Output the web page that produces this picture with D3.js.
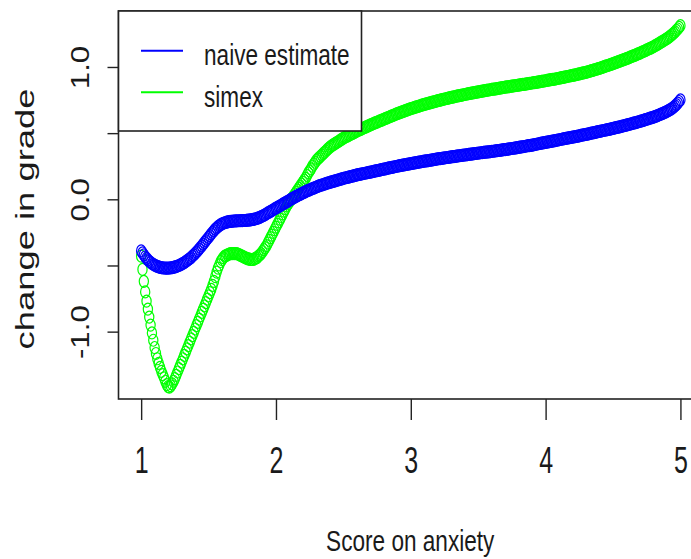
<!DOCTYPE html>
<html>
<head>
<meta charset="utf-8">
<script src="https://cdn.jsdelivr.net/npm/d3@7/dist/d3.min.js"></script>
<style>
  html, body { margin: 0; padding: 0; background: #fff; }
  svg { display: block; }
  text { font-family: "Liberation Sans", Arial, sans-serif; fill: #1a1a1a; }
</style>
</head>
<body>
<svg id="chart" width="691" height="559"></svg>
<script>
// Anxiety scores at which both fits are evaluated
const anxietyScore = [
  1.00,1.01,1.02,1.03,1.04,1.05,1.06,1.07,1.08,1.09,1.10,1.11,1.12,1.13,1.14,1.15,1.16,1.17,1.18,1.19,
  1.20,1.21,1.22,1.23,1.24,1.25,1.26,1.27,1.28,1.29,1.30,1.31,1.32,1.33,1.34,1.35,1.36,1.37,1.38,1.39,
  1.40,1.41,1.42,1.43,1.44,1.45,1.46,1.47,1.48,1.49,1.50,1.51,1.52,1.53,1.54,1.55,1.56,1.57,1.58,1.59,
  1.60,1.61,1.62,1.63,1.64,1.65,1.66,1.67,1.68,1.69,1.70,1.71,1.72,1.73,1.74,1.75,1.76,1.77,1.78,1.79,
  1.80,1.81,1.82,1.83,1.84,1.85,1.86,1.87,1.88,1.89,1.90,1.91,1.92,1.93,1.94,1.95,1.96,1.97,1.98,1.99,
  2.00,2.01,2.02,2.03,2.04,2.05,2.06,2.07,2.08,2.09,2.10,2.11,2.12,2.13,2.14,2.15,2.16,2.17,2.18,2.19,
  2.20,2.21,2.22,2.23,2.24,2.25,2.26,2.27,2.28,2.29,2.30,2.31,2.32,2.33,2.34,2.35,2.36,2.37,2.38,2.39,
  2.40,2.41,2.42,2.43,2.44,2.45,2.46,2.47,2.48,2.49,2.50,2.51,2.52,2.53,2.54,2.55,2.56,2.57,2.58,2.59,
  2.60,2.61,2.62,2.63,2.64,2.65,2.66,2.67,2.68,2.69,2.70,2.71,2.72,2.73,2.74,2.75,2.76,2.77,2.78,2.79,
  2.80,2.81,2.82,2.83,2.84,2.85,2.86,2.87,2.88,2.89,2.90,2.91,2.92,2.93,2.94,2.95,2.96,2.97,2.98,2.99,
  3.00,3.01,3.02,3.03,3.04,3.05,3.06,3.07,3.08,3.09,3.10,3.11,3.12,3.13,3.14,3.15,3.16,3.17,3.18,3.19,
  3.20,3.21,3.22,3.23,3.24,3.25,3.26,3.27,3.28,3.29,3.30,3.31,3.32,3.33,3.34,3.35,3.36,3.37,3.38,3.39,
  3.40,3.41,3.42,3.43,3.44,3.45,3.46,3.47,3.48,3.49,3.50,3.51,3.52,3.53,3.54,3.55,3.56,3.57,3.58,3.59,
  3.60,3.61,3.62,3.63,3.64,3.65,3.66,3.67,3.68,3.69,3.70,3.71,3.72,3.73,3.74,3.75,3.76,3.77,3.78,3.79,
  3.80,3.81,3.82,3.83,3.84,3.85,3.86,3.87,3.88,3.89,3.90,3.91,3.92,3.93,3.94,3.95,3.96,3.97,3.98,3.99,
  4.00,4.01,4.02,4.03,4.04,4.05,4.06,4.07,4.08,4.09,4.10,4.11,4.12,4.13,4.14,4.15,4.16,4.17,4.18,4.19,
  4.20,4.21,4.22,4.23,4.24,4.25,4.26,4.27,4.28,4.29,4.30,4.31,4.32,4.33,4.34,4.35,4.36,4.37,4.38,4.39,
  4.40,4.41,4.42,4.43,4.44,4.45,4.46,4.47,4.48,4.49,4.50,4.51,4.52,4.53,4.54,4.55,4.56,4.57,4.58,4.59,
  4.60,4.61,4.62,4.63,4.64,4.65,4.66,4.67,4.68,4.69,4.70,4.71,4.72,4.73,4.74,4.75,4.76,4.77,4.78,4.79,
  4.80,4.81,4.82,4.83,4.84,4.85,4.86,4.87,4.88,4.89,4.90,4.91,4.92,4.93,4.94,4.95,4.96,4.97,4.98,4.99,
  5.00
];

// Naive estimate of the change in grade
const naiveEstimate = [
  -0.390,-0.405,-0.420,-0.435,-0.447,-0.458,-0.468,-0.477,-0.485,-0.492,-0.498,-0.503,-0.507,-0.511,-0.514,-0.516,-0.518,-0.519,-0.520,-0.520,
  -0.520,-0.519,-0.518,-0.516,-0.514,-0.511,-0.508,-0.504,-0.500,-0.495,-0.490,-0.484,-0.478,-0.471,-0.464,-0.456,-0.448,-0.440,-0.430,-0.420,
  -0.410,-0.399,-0.388,-0.376,-0.364,-0.352,-0.339,-0.326,-0.313,-0.300,-0.287,-0.274,-0.261,-0.249,-0.237,-0.226,-0.216,-0.207,-0.199,-0.192,
  -0.186,-0.181,-0.177,-0.174,-0.171,-0.169,-0.167,-0.166,-0.165,-0.164,-0.163,-0.163,-0.162,-0.162,-0.161,-0.161,-0.160,-0.160,-0.159,-0.158,
  -0.157,-0.156,-0.154,-0.152,-0.150,-0.147,-0.144,-0.140,-0.136,-0.131,-0.126,-0.121,-0.115,-0.109,-0.103,-0.097,-0.091,-0.085,-0.079,-0.073,
  -0.067,-0.061,-0.055,-0.049,-0.043,-0.037,-0.031,-0.025,-0.019,-0.013,-0.007,-0.001,0.005,0.011,0.017,0.022,0.028,0.033,0.038,0.043,
  0.048,0.053,0.058,0.063,0.067,0.072,0.076,0.080,0.085,0.089,0.093,0.097,0.101,0.105,0.108,0.112,0.115,0.119,0.122,0.125,
  0.128,0.131,0.134,0.137,0.140,0.143,0.146,0.149,0.152,0.155,0.158,0.161,0.163,0.166,0.168,0.171,0.174,0.176,0.179,0.181,
  0.184,0.186,0.188,0.191,0.193,0.195,0.197,0.199,0.202,0.204,0.206,0.208,0.210,0.213,0.215,0.217,0.219,0.221,0.224,0.226,
  0.228,0.230,0.232,0.235,0.237,0.239,0.241,0.243,0.246,0.248,0.250,0.252,0.254,0.256,0.258,0.260,0.262,0.264,0.266,0.268,
  0.270,0.272,0.274,0.275,0.277,0.279,0.281,0.283,0.284,0.286,0.288,0.290,0.291,0.293,0.295,0.296,0.298,0.300,0.302,0.303,
  0.305,0.307,0.308,0.310,0.311,0.313,0.314,0.316,0.317,0.319,0.320,0.322,0.323,0.325,0.326,0.328,0.329,0.331,0.332,0.334,
  0.335,0.336,0.338,0.339,0.341,0.342,0.343,0.345,0.346,0.348,0.349,0.350,0.352,0.353,0.354,0.356,0.357,0.358,0.359,0.361,
  0.362,0.363,0.365,0.366,0.368,0.369,0.370,0.372,0.373,0.375,0.376,0.378,0.379,0.381,0.382,0.384,0.386,0.387,0.389,0.390,
  0.392,0.394,0.396,0.397,0.399,0.401,0.403,0.405,0.406,0.408,0.410,0.412,0.414,0.416,0.418,0.420,0.422,0.424,0.426,0.428,
  0.430,0.432,0.434,0.436,0.438,0.440,0.442,0.444,0.446,0.448,0.450,0.452,0.454,0.456,0.458,0.460,0.462,0.464,0.466,0.468,
  0.470,0.472,0.474,0.476,0.478,0.480,0.483,0.485,0.487,0.489,0.491,0.493,0.495,0.498,0.500,0.502,0.504,0.506,0.509,0.511,
  0.513,0.515,0.518,0.520,0.522,0.525,0.527,0.529,0.531,0.534,0.536,0.538,0.541,0.543,0.546,0.548,0.551,0.553,0.556,0.558,
  0.561,0.564,0.566,0.569,0.572,0.575,0.578,0.580,0.583,0.586,0.589,0.592,0.595,0.599,0.602,0.605,0.608,0.611,0.615,0.618,
  0.621,0.625,0.629,0.633,0.637,0.642,0.646,0.650,0.655,0.659,0.664,0.670,0.676,0.682,0.689,0.697,0.706,0.716,0.727,0.739,
  0.752
];

// SIMEX-corrected estimate of the change in grade
const simexEstimate = [
  -0.430,-0.530,-0.620,-0.700,-0.770,-0.830,-0.890,-0.950,-1.010,-1.065,-1.120,-1.165,-1.205,-1.240,-1.270,-1.300,-1.325,-1.350,-1.375,-1.400,
  -1.415,-1.420,-1.410,-1.395,-1.375,-1.355,-1.330,-1.305,-1.280,-1.255,-1.230,-1.205,-1.180,-1.155,-1.130,-1.105,-1.080,-1.055,-1.030,-1.005,
  -0.980,-0.955,-0.930,-0.905,-0.880,-0.855,-0.830,-0.805,-0.780,-0.755,-0.730,-0.705,-0.680,-0.650,-0.620,-0.585,-0.550,-0.520,-0.495,-0.470,
  -0.455,-0.440,-0.430,-0.425,-0.420,-0.415,-0.410,-0.410,-0.410,-0.410,-0.410,-0.410,-0.415,-0.420,-0.425,-0.430,-0.435,-0.440,-0.445,-0.450,
  -0.450,-0.455,-0.455,-0.455,-0.450,-0.445,-0.440,-0.430,-0.420,-0.410,-0.395,-0.380,-0.365,-0.350,-0.330,-0.310,-0.290,-0.270,-0.250,-0.230,
  -0.210,-0.190,-0.170,-0.150,-0.130,-0.110,-0.090,-0.070,-0.050,-0.035,-0.020,-0.005,0.010,0.025,0.040,0.055,0.070,0.085,0.100,0.115,
  0.130,0.145,0.160,0.180,0.200,0.215,0.230,0.250,0.265,0.280,0.295,0.305,0.315,0.325,0.335,0.345,0.355,0.365,0.375,0.385,
  0.395,0.402,0.409,0.415,0.422,0.429,0.435,0.442,0.449,0.455,0.462,0.467,0.473,0.478,0.483,0.489,0.494,0.499,0.504,0.510,
  0.515,0.520,0.524,0.529,0.534,0.539,0.543,0.548,0.553,0.557,0.562,0.566,0.571,0.575,0.579,0.584,0.588,0.592,0.596,0.601,
  0.605,0.609,0.614,0.618,0.622,0.627,0.631,0.635,0.639,0.644,0.648,0.652,0.655,0.659,0.663,0.666,0.670,0.674,0.678,0.681,
  0.685,0.688,0.691,0.695,0.698,0.701,0.704,0.707,0.711,0.714,0.717,0.720,0.723,0.725,0.728,0.731,0.734,0.737,0.739,0.742,
  0.745,0.748,0.750,0.753,0.755,0.758,0.760,0.763,0.765,0.768,0.770,0.772,0.774,0.777,0.779,0.781,0.783,0.785,0.788,0.790,
  0.792,0.794,0.796,0.798,0.800,0.802,0.804,0.806,0.808,0.810,0.812,0.814,0.816,0.817,0.819,0.821,0.823,0.825,0.826,0.828,
  0.830,0.832,0.833,0.835,0.837,0.838,0.840,0.842,0.844,0.845,0.847,0.849,0.850,0.852,0.853,0.855,0.857,0.858,0.860,0.861,
  0.863,0.865,0.866,0.868,0.869,0.871,0.873,0.874,0.876,0.877,0.879,0.881,0.882,0.884,0.886,0.887,0.889,0.891,0.893,0.894,
  0.896,0.898,0.900,0.902,0.904,0.906,0.907,0.909,0.911,0.913,0.915,0.917,0.919,0.921,0.923,0.926,0.928,0.930,0.932,0.934,
  0.936,0.938,0.941,0.943,0.946,0.948,0.950,0.953,0.955,0.958,0.960,0.963,0.966,0.969,0.972,0.975,0.978,0.981,0.984,0.987,
  0.990,0.994,0.997,1.001,1.004,1.008,1.011,1.015,1.018,1.022,1.025,1.029,1.033,1.036,1.040,1.044,1.048,1.052,1.055,1.059,
  1.063,1.067,1.071,1.076,1.080,1.084,1.088,1.092,1.097,1.101,1.105,1.110,1.115,1.119,1.124,1.129,1.134,1.139,1.143,1.148,
  1.153,1.159,1.165,1.171,1.177,1.184,1.190,1.196,1.202,1.208,1.215,1.222,1.230,1.238,1.247,1.256,1.266,1.276,1.287,1.299,
  1.312
];

const xTicks = [1, 2, 3, 4, 5];
const yTicks = [-1.0, -0.5, 0.0, 0.5, 1.0];
const yLabelled = [-1.0, 0.0, 1.0];
const legendLabels = ["naive estimate", "simex"];
const seriesColors = ["#0000ff", "#00ff00"];
const xTitle = "Score on anxiety";
const yTitle = "change in grade";

const svg = d3.select("#chart");
const plot = { left: 118.5, right: 702, top: 11, bottom: 399 };
const font = "Liberation Sans, Arial, sans-serif";
const ink = "#1a1a1a";

const x = d3.scaleLinear().domain([0.832, 5.16]).range([plot.left, plot.right]);
const y = d3.scaleLinear().domain([-1.509, 1.423]).range([plot.bottom, plot.top]);

const pts = anxietyScore.map((s, i) => ({ s, naive: naiveEstimate[i], simex: simexEstimate[i] }));

// Open-circle markers, simex underneath the naive fit
function drawSeries(key, color) {
  svg.append("g")
    .selectAll("ellipse")
    .data(pts)
    .join("ellipse")
    .attr("cx", d => x(d.s))
    .attr("cy", d => y(d[key]))
    .attr("rx", 4.6)
    .attr("ry", 6.0)
    .attr("fill", "none")
    .attr("stroke", color)
    .attr("stroke-width", 1.2);
}
drawSeries("simex", seriesColors[1]);
drawSeries("naive", seriesColors[0]);

// X axis
const xAxis = svg.append("g")
  .attr("transform", `translate(0,${plot.bottom})`)
  .call(d3.axisBottom(x).tickValues(xTicks).tickSize(21).tickFormat(d3.format("d")));
xAxis.select(".domain").remove();
xAxis.selectAll(".tick line").attr("stroke", "#222").attr("stroke-width", 1.4);
xAxis.selectAll(".tick text")
  .attr("y", null).attr("dy", null)
  .attr("font-size", 25)
  .attr("font-family", font)
  .attr("fill", ink)
  .attr("transform", "translate(0,74) scale(1,1.45)");

// Y axis
const yAxis = svg.append("g")
  .attr("transform", `translate(${plot.left},0)`)
  .call(d3.axisLeft(y).tickValues(yTicks).tickSize(11)
    .tickFormat(d => yLabelled.includes(d) ? d.toFixed(1) : ""));
yAxis.select(".domain").remove();
yAxis.selectAll(".tick line").attr("stroke", "#222").attr("stroke-width", 1.4);
yAxis.selectAll(".tick text")
  .attr("x", null).attr("dy", null)
  .attr("text-anchor", "middle")
  .attr("font-size", 26)
  .attr("font-family", font)
  .attr("fill", ink)
  .attr("transform", "translate(-30,0) scale(1,1.2) rotate(-90)");

// Plot frame
svg.append("rect")
  .attr("x", plot.left).attr("y", plot.top)
  .attr("width", plot.right - plot.left).attr("height", plot.bottom - plot.top)
  .attr("fill", "none").attr("stroke", "#222").attr("stroke-width", 1.6);

// Axis titles
svg.append("text")
  .attr("text-anchor", "middle")
  .attr("font-size", 22.6)
  .attr("transform", `translate(${(plot.left + plot.right) / 2},551) scale(1,1.3)`)
  .text(xTitle);
svg.append("text")
  .attr("text-anchor", "middle")
  .attr("font-size", 26)
  .attr("transform", "translate(34,219) scale(1,1.4) rotate(-90)")
  .text(yTitle);

// Legend
const legend = svg.append("g");
legend.append("rect")
  .attr("x", plot.left).attr("y", plot.top)
  .attr("width", 243).attr("height", 120)
  .attr("fill", "#fff").attr("stroke", "#222").attr("stroke-width", 1.6);
const rowY = [50.7, 92.2];
legendLabels.forEach((label, i) => {
  legend.append("line")
    .attr("x1", 141).attr("x2", 183)
    .attr("y1", rowY[i]).attr("y2", rowY[i])
    .attr("stroke", seriesColors[i]).attr("stroke-width", 2);
  legend.append("text")
    .attr("font-size", 22.6)
    .attr("transform", `translate(204,${rowY[i] + 14.5}) scale(1,1.3)`)
    .text(label);
});
</script>
</body>
</html>
